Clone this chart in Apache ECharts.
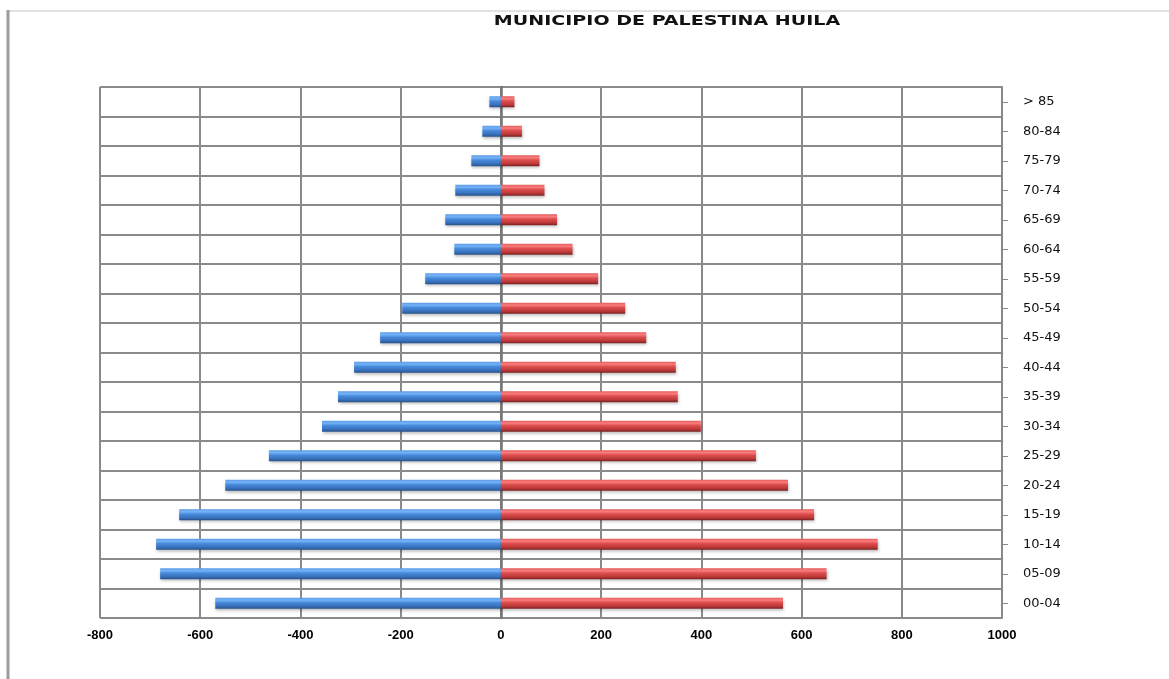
<!DOCTYPE html>
<html>
<head>
<meta charset="utf-8">
<title>Municipio de Palestina Huila</title>
<script src="https://cdn.jsdelivr.net/npm/echarts/dist/echarts.min.js"></script>
<style>
  html, body { margin: 0; padding: 0; background: #ffffff; }
  #chart { width: 1169px; height: 679px; }
</style>
</head>
<body>
<div id="chart"></div>
<script>
// Age groups, oldest at the top
const ageGroups = ['> 85', '80-84', '75-79', '70-74', '65-69', '60-64', '55-59', '50-54', '45-49',
  '40-44', '35-39', '30-34', '25-29', '20-24', '15-19', '10-14', '05-09', '00-04'];

// Left side (drawn as negative values)
const leftValues = [-23, -37, -59, -91, -111, -93, -151, -197, -241,
  -293, -325, -357, -463, -550, -642, -688, -680, -570];

// Right side
const rightValues = [27, 42, 77, 87, 112, 143, 194, 248, 290,
  349, 353, 399, 509, 573, 625, 752, 650, 563];

const xTicks = { min: -800, max: 1000, step: 200 };
const titleText = 'MUNICIPIO DE PALESTINA HUILA';

const chart = echarts.init(document.getElementById('chart'), null, { renderer: 'canvas' });

function bevel(light, top, mid, low, dark) {
  return new echarts.graphic.LinearGradient(0, 0, 0, 1, [
    { offset: 0, color: top },
    { offset: 0.22, color: light },
    { offset: 0.45, color: mid },
    { offset: 0.75, color: low },
    { offset: 1, color: dark }
  ]);
}

const gridLine = { show: true, lineStyle: { color: '#8a8a8a', width: 2 } };

chart.setOption({
  backgroundColor: '#ffffff',
  animation: false,
  graphic: [
    // outer frame of the chart area
    { type: 'line', shape: { x1: 8, y1: 11, x2: 1169, y2: 11 }, style: { stroke: '#c4c4c4', lineWidth: 1 } },
    { type: 'line', shape: { x1: 8, y1: 10, x2: 8, y2: 679 }, style: { stroke: '#9c9c9c', lineWidth: 3 } },
    {
      type: 'text', x: 667, y: 22, scaleX: 1.36, scaleY: 0.95,
      style: {
        text: titleText, fill: '#111', align: 'center', verticalAlign: 'middle',
        font: 'bold 14px "DejaVu Sans", sans-serif'
      }
    }
  ],
  grid: { left: 100, right: 167, top: 87, bottom: 61, containLabel: false },
  xAxis: {
    type: 'value',
    min: xTicks.min, max: xTicks.max, interval: xTicks.step,
    axisLine: { show: false },
    axisTick: { show: false },
    axisLabel: {
      margin: 11, color: '#000',
      fontFamily: '"Liberation Sans", Arial, sans-serif', fontWeight: 'bold', fontSize: 13,
      formatter: function (v) { return String(v); }
    },
    splitLine: gridLine
  },
  yAxis: [
    {
      // axis line crossing at zero, plus horizontal grid between groups
      type: 'category', data: ageGroups, inverse: true,
      axisLine: { show: true, onZero: true, lineStyle: { color: '#757575', width: 2.5 } },
      axisTick: { show: false },
      axisLabel: { show: false },
      splitLine: gridLine
    },
    {
      // labelled axis on the right edge
      type: 'category', data: ageGroups, inverse: true, position: 'right',
      axisLine: { show: true, onZero: false, lineStyle: { color: '#8a8a8a', width: 2 } },
      axisTick: { show: true, alignWithLabel: true, length: 6, lineStyle: { color: '#8a8a8a', width: 1 } },
      axisLabel: {
        margin: 21, color: '#111',
        fontFamily: '"DejaVu Sans", sans-serif', fontSize: 13
      },
      splitLine: { show: false }
    }
  ],
  series: [
    {
      type: 'bar', yAxisIndex: 0, data: leftValues,
      barWidth: 11, barGap: '-100%',
      itemStyle: {
        color: bevel('#74b3f7', '#5c9be6', '#4689da', '#3a72bd', '#27528b'),
        shadowColor: 'rgba(0,0,0,0.28)', shadowBlur: 3, shadowOffsetX: 1, shadowOffsetY: 2
      }
    },
    {
      type: 'bar', yAxisIndex: 0, data: rightValues,
      barWidth: 11, barGap: '-100%',
      itemStyle: {
        color: bevel('#fa7d7d', '#e45b5b', '#dc4c4c', '#bf3a3a', '#7c2121'),
        shadowColor: 'rgba(0,0,0,0.28)', shadowBlur: 3, shadowOffsetX: 1, shadowOffsetY: 2
      }
    }
  ]
});
</script>
</body>
</html>
